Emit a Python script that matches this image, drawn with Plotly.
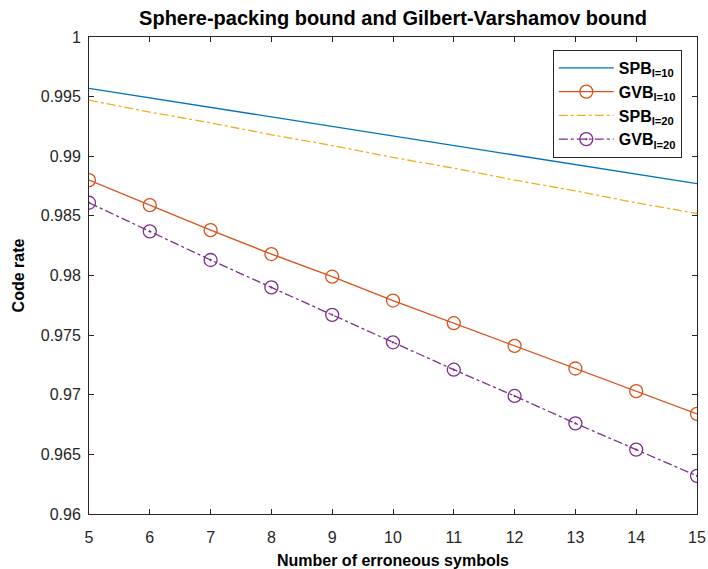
import plotly.graph_objects as go

errors = [5, 6, 7, 8, 9, 10, 11, 12, 13, 14, 15]
spb_l10 = [0.9957, 0.9949, 0.9941, 0.9933, 0.9925, 0.9917, 0.9909, 0.9901, 0.9893, 0.9885, 0.9877]
gvb_l10 = [0.9880, 0.9859, 0.9838, 0.9818, 0.9799, 0.9779, 0.9760, 0.9741, 0.9722, 0.9703, 0.9684]
spb_l20 = [0.9947, 0.9937, 0.9928, 0.9918, 0.9909, 0.9899, 0.9890, 0.9880, 0.9871, 0.9861, 0.9852]
gvb_l20 = [0.9861, 0.9837, 0.9813, 0.9790, 0.9767, 0.9744, 0.9721, 0.9699, 0.9676, 0.9654, 0.9632]
y_ticks = [0.96, 0.965, 0.97, 0.975, 0.98, 0.985, 0.99, 0.995, 1]
y_tick_labels = ["0.96", "0.965", "0.97", "0.975", "0.98", "0.985", "0.99", "0.995", "1"]

font_family = "Liberation Sans, Arial, sans-serif"
axis_color = "#262626"

fig = go.Figure()
fig.add_trace(go.Scatter(x=errors, y=spb_l10, mode="lines", name="<b>SPB<sub>l=10</sub></b>",
                         line=dict(color="#0072BD", width=1.3)))
fig.add_trace(go.Scatter(x=errors, y=gvb_l10, mode="lines+markers", name="<b>GVB<sub>l=10</sub></b>",
                         line=dict(color="#D95319", width=1.3),
                         marker=dict(symbol="circle-open", size=13, color="#D95319", line=dict(width=1.3))))
fig.add_trace(go.Scatter(x=errors, y=spb_l20, mode="lines", name="<b>SPB<sub>l=20</sub></b>",
                         line=dict(color="#EDB120", width=1.3, dash="dashdot")))
fig.add_trace(go.Scatter(x=errors, y=gvb_l20, mode="lines+markers", name="<b>GVB<sub>l=20</sub></b>",
                         line=dict(color="#7E2F8E", width=1.3, dash="dashdot"),
                         marker=dict(symbol="circle-open-dot", size=13, color="#7E2F8E", line=dict(width=1.3))))

fig.update_layout(
    width=708, height=569,
    margin=dict(l=89, r=11, t=37, b=55, autoexpand=False),
    paper_bgcolor="white", plot_bgcolor="white",
    font=dict(family=font_family, color=axis_color, size=15),
    title=dict(text="<b>Sphere-packing bound and Gilbert-Varshamov bound</b>",
               x=0.5, xanchor="center", xref="paper", y=0.968, yanchor="middle",
               font=dict(size=20, color="black")),
    legend=dict(x=0.975, y=0.973, xanchor="right", yanchor="top",
                bordercolor=axis_color, borderwidth=1, bgcolor="white",
                font=dict(size=16, color="black"), tracegroupgap=0, itemwidth=55),
    showlegend=True,
)
fig.update_xaxes(range=[5, 15], tickvals=errors, ticks="inside", ticklen=5, tickcolor=axis_color,
                 showline=True, linecolor=axis_color, linewidth=1, mirror="ticks",
                 showgrid=False, zeroline=False, automargin=False, ticklabelstandoff=9,
                 title=dict(text="<b>Number of erroneous symbols</b>", font=dict(size=16, color="black"), standoff=11),
                 tickfont=dict(size=16))
fig.update_yaxes(range=[0.96, 1], tickvals=y_ticks, ticktext=y_tick_labels, ticks="inside", ticklen=5,
                 tickcolor=axis_color, showline=True, linecolor=axis_color, linewidth=1, mirror="ticks",
                 showgrid=False, zeroline=False, automargin=False, ticklabelstandoff=4,
                 title=dict(text="<b>Code rate</b>", font=dict(size=16, color="black"), standoff=12),
                 tickfont=dict(size=16))

fig.write_html("out.html", config={"displayModeBar": False},
               post_script="document.body.style.margin='0';document.body.style.overflow='hidden';")
